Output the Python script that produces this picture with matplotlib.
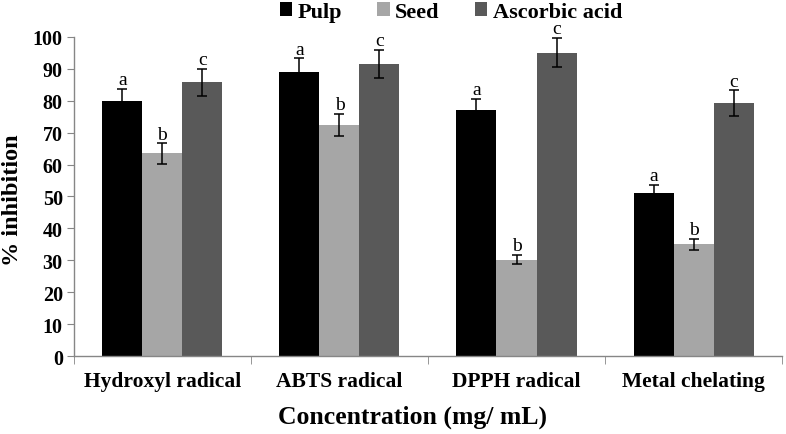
import numpy as np
import matplotlib
matplotlib.use('Agg')
import matplotlib.pyplot as plt
from matplotlib.patches import Patch

plt.rcParams['font.family'] = 'Liberation Serif'

# data
categories = ['Hydroxyl radical', 'ABTS radical', 'DPPH radical', 'Metal chelating']
series = ['Pulp', 'Seed', 'Ascorbic acid']
pulp = [80.0, 89.0, 77.0, 51.0]
seed = [63.5, 72.3, 30.2, 35.0]
ascorbic = [85.8, 91.5, 95.0, 79.3]
pulp_err = [3.8, 4.3, 3.6, 2.6]
seed_err = [3.2, 3.5, 1.5, 1.8]
ascorbic_err = [4.2, 4.5, 4.6, 4.0]
letters = ['a', 'b', 'c']

colors = ['#000000', '#a6a6a6', '#595959']
axis_gray = '#868686'

fig = plt.figure(figsize=(7.86, 4.35), dpi=100)
ax = fig.add_axes([0.094, 0.179, 0.901, 0.734])

x = np.arange(len(categories))
w = 0.226
vals = [pulp, seed, ascorbic]
errs = [pulp_err, seed_err, ascorbic_err]
for i, (v, e) in enumerate(zip(vals, errs)):
    pos = x + (i - 1) * w
    ax.bar(pos, v, w, color=colors[i], edgecolor='none', zorder=2)
    ax.errorbar(pos, v, yerr=e, fmt='none', ecolor='black', elinewidth=1.1,
                capsize=3.5, capthick=1.1, zorder=3)
    for p, vv, ee in zip(pos, v, e):
        ax.text(p, vv + ee + 0.2, letters[i], ha='center', va='bottom',
                fontsize=14, color='black', zorder=4)

ax.set_xlim(-0.5, len(categories) - 0.5)
ax.set_ylim(0, 100)
ax.set_yticks(range(0, 101, 10))
ax.set_yticklabels([str(t) for t in range(0, 101, 10)], fontsize=14.5, fontweight='bold')
ax.set_xticks(x)
ax.set_xticklabels(categories, fontsize=15.5, fontweight='bold')
ax.tick_params(axis='x', length=0, pad=11)
ax.set_xticks(np.arange(-0.5, len(categories), 1.0), minor=True)
ax.tick_params(axis='x', which='minor', length=6, color=axis_gray, direction='out')
ax.tick_params(axis='y', length=5, color=axis_gray, direction='out', pad=3)

for s in ['top', 'right']:
    ax.spines[s].set_visible(False)
for s in ['left', 'bottom']:
    ax.spines[s].set_color(axis_gray)
    ax.spines[s].set_linewidth(1.0)

fig.text(13 / 786, 1 - 200 / 435, '% inhibition', ha='center', va='center', rotation=90,
         fontsize=17.5, fontweight='bold')
fig.text(413 / 786, 1 - 417 / 435, 'Concentration (mg/ mL)', ha='center', va='center',
         fontsize=18.5, fontweight='bold')

handles = [Patch(facecolor=c, edgecolor='none', label=s) for c, s in zip(colors, series)]
fig.legend(handles=handles, loc='center', bbox_to_anchor=(451 / 786, 1 - 13 / 435), ncol=3,
           frameon=False, prop={'size': 16, 'weight': 'bold'},
           handlelength=0.55, handleheight=0.55, handletextpad=0.25, columnspacing=1.6,
           borderpad=0, borderaxespad=0)

fig.savefig('out.png', dpi=100)
